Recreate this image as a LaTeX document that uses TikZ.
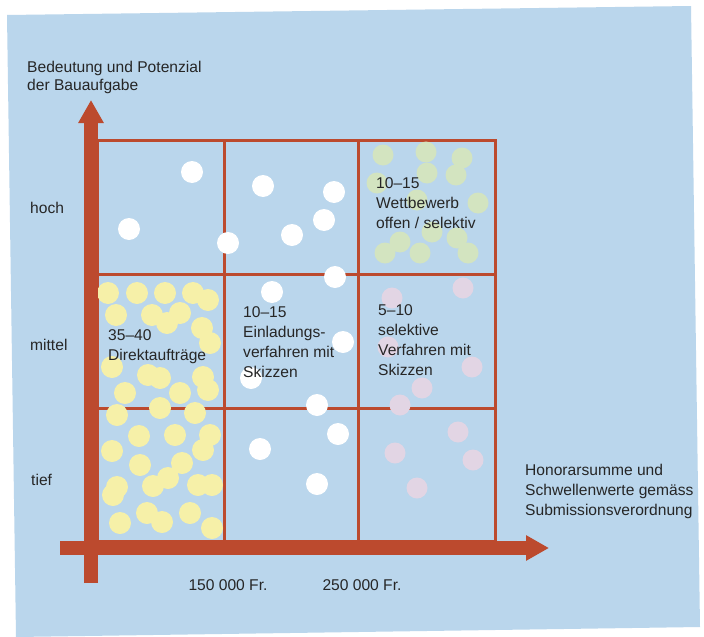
\documentclass[tikz,border=0pt]{standalone}
\usepackage{fontspec}
\setmainfont{Liberation Sans}
\usetikzlibrary{arrows.meta,positioning}
\definecolor{panelblue}{HTML}{BAD6EC}
\definecolor{chartred}{HTML}{BC4A2E}
\definecolor{inkgray}{HTML}{262626}
\definecolor{dotcream}{HTML}{F6F0A8}
\definecolor{dotsage}{HTML}{D3E4C0}
\definecolor{dotrose}{HTML}{E2D5E4}

\begin{document}
\begin{tikzpicture}[x=1pt,y=-1pt,
  axisbar/.style={draw=chartred,line width=14pt,-{Triangle[length=23pt,width=24pt]}},
  gridline/.style={draw=chartred,line width=3pt},
  lbl/.style={text=inkgray,font=\fontsize{15.6}{20}\selectfont,align=left,inner sep=0pt,anchor=base west},
]
  \useasboundingbox (0,0) rectangle (704,637);
  \fill[white] (0,0) rectangle (704,637);
  % blue panel (scan is a bit skewed)
  \fill[panelblue] (7,15) -- (691,6) -- (700,627) -- (16,637) -- cycle;

  % grid of nine fields
  \draw[gridline] (97,140) rectangle (495,541);
  \draw[gridline] (224,140) -- (224,541);
  \draw[gridline] (358,140) -- (358,541);
  \draw[gridline] (97,274) -- (495,274);
  \draw[gridline] (97,408) -- (495,408);

  % dots
  \foreach \px/\py in {192/172,129/229,228/243,263/186,334/192,324/220,292/235,
      335/277,272/292,343/342,251/378,317/405,338/434,260/449,317/484}
    \fill[white] (\px,\py) circle[radius=11pt];
  \foreach \px/\py in {108/293,137/293,165/293,193/293,208/300,116/315,152/315,
      180/313,167/323,202/328,210/343,112/367,148/375,160/378,203/377,208/390,
      180/393,125/393,117/415,160/408,195/413,139/436,175/435,210/435,112/451,
      203/450,140/465,182/463,168/478,153/486,117/487,113/495,198/485,212/485,
      120/523,147/513,162/522,190/513,212/528}
    \fill[dotcream] (\px,\py) circle[radius=11pt];
  \foreach \px/\py in {383/155,426/152,462/158,456/175,427/173,377/183,478/203,
      417/200,432/232,400/242,457/238,385/253,420/253,468/253}
    \fill[dotsage] (\px,\py) circle[radius=10.5pt];
  \foreach \px/\py in {463/288,392/298,388/347,472/367,422/388,400/405,458/432,
      395/453,473/460,417/488}
    \fill[dotrose] (\px,\py) circle[radius=10.5pt];

  % axes
  \coordinate (yfoot) at (91,583);
  \coordinate (ytip) at (91,100);
  \coordinate (xfoot) at (60,548);
  \coordinate (xtip) at (549,548);
  \draw[axisbar] (yfoot) -- (ytip);
  \draw[axisbar] (xfoot) -- (xtip);

  % axis labels (multi-line nodes sit on their last line)
  \node[lbl,font=\fontsize{15.6}{18.5}\selectfont] (ytitle) at (27,90.5) {Bedeutung und Potenzial\\der Bauaufgabe};
  \node[lbl] (hoch) at (30,213) {hoch};
  \node[lbl] (mittel) at (30,350) {mittel};
  \node[lbl] (tief) at (31,485) {tief};
  \node[lbl] (xtitle) at (525,515) {Honorarsumme und\\Schwellenwerte gemäss\\Submissionsverordnung};
  \node[lbl,anchor=base] (tick1) at (228,590) {150 000 Fr.};
  \node[lbl,anchor=base] (tick2) at (362,590) {250 000 Fr.};

  % field texts
  \node[lbl] (wettbewerb) at (376,228) {10--15\\Wettbewerb\\offen / selektiv};
  \node[lbl] (direkt) at (108,360) {35--40\\Direktaufträge};
  \node[lbl] (einladung) at (243,377) {10--15\\Einladungs-\\verfahren mit\\Skizzen};
  \node[lbl] (selektiv) at (378,375) {5--10\\selektive\\Verfahren mit\\Skizzen};
\end{tikzpicture}
\end{document}
